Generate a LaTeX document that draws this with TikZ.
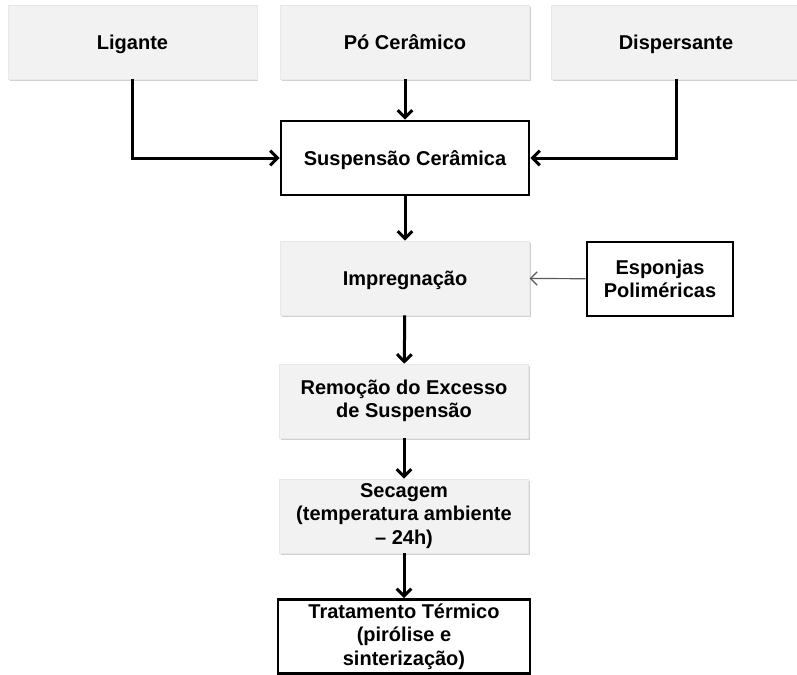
\documentclass[tikz,border=0pt]{standalone}
\usepackage{fontspec}
\setmainfont{Liberation Sans}
\usetikzlibrary{arrows.meta,shadows}

\tikzset{every picture/.style={line width=0.75pt}}
\tikzset{
  boxtext/.style={font=\bfseries\fontsize{15}{17.5}\selectfont, align=center, inner sep=1pt},
  oneline/.style={text height=10.7pt, text depth=0pt},
  graybox/.style={boxtext, fill={rgb, 255:red, 242; green, 242; blue, 242}, draw={rgb, 255:red, 232; green, 232; blue, 232},
    line width=0.5pt, minimum width=186.5pt, minimum height=55.5pt,
    drop shadow={shadow xshift=1pt, shadow yshift=-1.5pt, opacity=0.3, fill=black!60}},
  framebox/.style={boxtext, fill=white, draw=black, line width=2pt, minimum height=55.5pt},
  flow/.style={draw=black, line width=2.25pt, -{Straight Barb[length=5.5pt,width=11pt]}},
  feed/.style={draw={rgb, 255:red, 90; green, 90; blue, 90}, line width=0.9pt, -{Straight Barb[length=5pt,width=10pt]}}
}

\begin{document}
\begin{tikzpicture}[x=0.75pt,y=0.75pt,yscale=-1,xscale=1]
\useasboundingbox (0,0) rectangle (797,675);

% Inputs
\node [graybox, oneline] (ligante) at (132.5,42) {Ligante};
\node [graybox, oneline] (po) at (405,42) {Pó Cerâmico};
\node [graybox, oneline] (dispersante) at (676,42) {Dispersante};

% Suspension
\node [framebox, oneline, minimum width=186pt] (suspensao) at (405,158) {Suspensão Cerâmica};

% Process steps
\node [graybox, oneline] (impregnacao) at (405,278) {Impregnação};
\node [framebox, minimum width=109.5pt] (esponjas) at (660,279) {Esponjas\\Poliméricas};
\node [graybox] (remocao) at (404,401) {Remoção do Excesso\\de Suspensão};
\node [graybox] (secagem) at (404,516) {Secagem\\(temperatura ambiente\\– 24h)};
\node [framebox, minimum width=189pt] (tratamento) at (404,636.5) {Tratamento Térmico\\(pirólise e\\sinterização)};

% Connectors
\draw [flow] (ligante.south) |- (suspensao.west);
\draw [flow] (dispersante.south) |- (suspensao.east);
\draw [flow] (po) -- (suspensao);
\draw [flow] (suspensao) -- (impregnacao);
\draw [feed] (esponjas) -- (impregnacao);
\draw [flow] (impregnacao) -- (remocao);
\draw [flow] (remocao) -- (secagem);
\draw [flow] (secagem) -- (tratamento);

\end{tikzpicture}
\end{document}
